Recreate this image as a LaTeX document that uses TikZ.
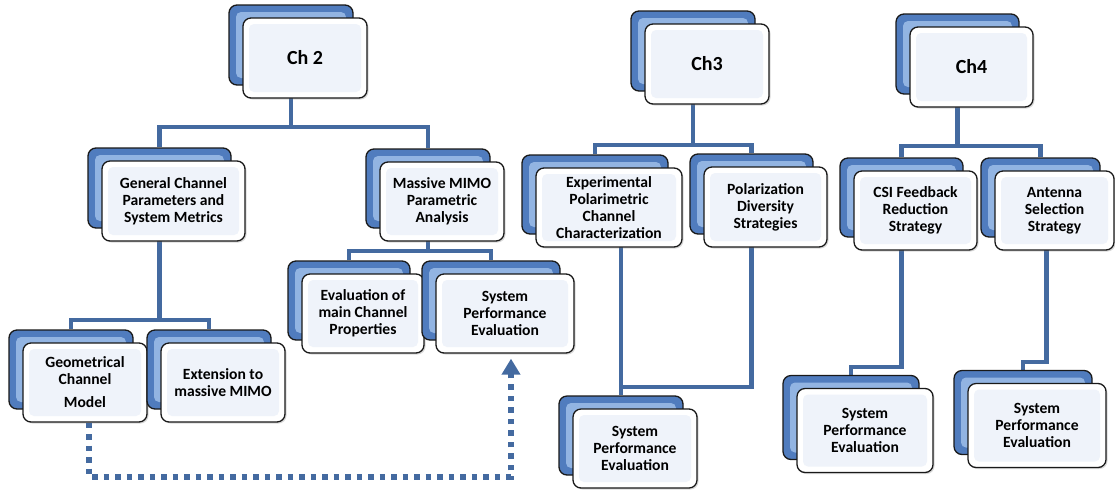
\documentclass[tikz,border=0pt]{standalone}
\usepackage{fontspec}
\setmainfont{Carlito}
\usetikzlibrary{arrows.meta,shadows}
\pgfdeclarelayer{background}
\pgfsetlayers{background,main}
\definecolor{lineblue}{RGB}{68,106,160}
\definecolor{cardblue}{RGB}{80,124,190}
\definecolor{cardlight}{RGB}{146,180,226}
\definecolor{frontin}{RGB}{239,243,250}
\definecolor{cardedge}{RGB}{25,25,25}
\tikzset{
  conn/.style={draw=lineblue, line width=4.8pt},
  dotarrow/.style={draw=lineblue, line width=5.5pt, dash pattern=on 5.5pt off 6pt,
    -{Triangle[width=18pt,length=16pt]}},
  backcard/.style={draw=cardedge, line width=1.3pt, rounded corners=8pt, fill=cardblue, inner sep=0pt,
    path picture={\fill[cardlight, rounded corners=5pt]
      ([shift={(7pt,7pt)}]path picture bounding box.south west) rectangle
      ([shift={(-7pt,-7pt)}]path picture bounding box.north east);}},
  frontcard/.style={draw=cardedge, line width=1.3pt, rounded corners=8pt, fill=white, inner sep=0pt,
    align=center, font=\fontsize{15.6}{17}\selectfont\bfseries,
    drop shadow={shadow xshift=1.5pt, shadow yshift=-1.5pt, opacity=0.3},
    path picture={\fill[frontin, rounded corners=5pt]
      ([shift={(6pt,6pt)}]path picture bounding box.south west) rectangle
      ([shift={(-6pt,-6pt)}]path picture bounding box.north east);}},
}
\newcommand\card[6]{%
  \node[backcard, minimum width=#4pt, minimum height=#5pt] (#1b) at (#2-14,#3-13) {};
  \node[frontcard, minimum width=#4pt, minimum height=#5pt] (#1) at (#2,#3) {#6};
}
\newcommand\chfont{\fontsize{20}{24}\selectfont}
\begin{document}
\begin{tikzpicture}[x=1pt,y=-1pt]
\useasboundingbox (0,0) rectangle (1115,491);
% chapter 2
\card{ch2}{305}{58}{124}{80}{\chfont Ch 2}
\card{gc}{173.5}{201}{143}{80}{General Channel\\Parameters and\\System Metrics}
\card{mm}{442}{201.5}{124}{79}{Massive MIMO\\Parametric\\Analysis}
\card{ev}{363}{313.5}{122}{79}{Evaluation of\\main Channel\\Properties}
\card{spe2}{505}{313.5}{138}{79}{System\\Performance\\Evaluation}
\card{geo}{85}{382.5}{124}{79}{Geometrical\\Channel\\[6pt]Model}
\card{ext}{223}{382.5}{124}{79}{Extension to\\massive MIMO}
% chapter 3
\card{ch3}{707}{64}{124}{80}{\chfont Ch3}
\card{exp}{609}{207.5}{146}{79}{Experimental\\Polarimetric\\Channel\\Characterization}
\card{pol}{765.5}{207}{123}{80}{Polarization\\Diversity\\Strategies}
\card{spe3}{635}{448.5}{124}{79}{System\\Performance\\Evaluation}
% chapter 4
\card{ch4}{971.5}{67}{123}{80}{\chfont Ch4}
\card{csi}{915.5}{210.5}{123}{79}{CSI Feedback\\Reduction\\Strategy}
\card{ant}{1054.5}{210.5}{119}{79}{Antenna\\Selection\\Strategy}
\card{spea}{865}{430.5}{136}{84}{System\\Performance\\Evaluation}
\card{speb}{1037}{425.5}{138}{84}{System\\Performance\\Evaluation}
% connectors
\coordinate (b2) at (0,127);
\coordinate (bgc) at (0,320);
\coordinate (bmm) at (0,251);
\coordinate (b3) at (0,145);
\coordinate (bsp3) at (0,387);
\coordinate (b4) at (0,146);
\coordinate (bcsi) at (0,367);
\coordinate (bant) at (0,362);
\coordinate (dc) at (511,477);
\begin{pgfonlayer}{background}
\draw[conn] (ch2b.south) -- (ch2b.south |- b2);
\draw[conn] (gcb.north) -- (gcb.north |- b2) -| (mmb.north);
\draw[conn] (gcb.south) -- (gcb.south |- bgc);
\draw[conn] (geob.north) -- (geob.north |- bgc) -| (extb.north);
\draw[conn] (mmb.south) -- (mmb.south |- bmm);
\draw[conn] (evb.north) -- (evb.north |- bmm) -| (spe2b.north);
\draw[conn] (ch3b.south) -- (ch3b.south |- b3);
\draw[conn] (expb.north) -- (expb.north |- b3) -| (polb.north);
\draw[conn] (spe3b.north |- expb.south) -- (spe3b.north);
\draw[conn] (polb.south) -- (polb.south |- bsp3) -| (spe3b.north);
\draw[conn] (ch4b.south) -- (ch4b.south |- b4);
\draw[conn] (csib.north) -- (csib.north |- b4) -| (antb.north);
\draw[conn] (csib.south) -- (csib.south |- bcsi) -| (speab.north);
\draw[conn] ([xshift=6pt]antb.south) -- ([xshift=6pt]antb.south |- bant) -| (spebb.north);
\end{pgfonlayer}
\draw[dotarrow] ([xshift=4pt]geo.south) |- (dc) -- ([xshift=6pt,yshift=-5pt]spe2.south);
\end{tikzpicture}
\end{document}
